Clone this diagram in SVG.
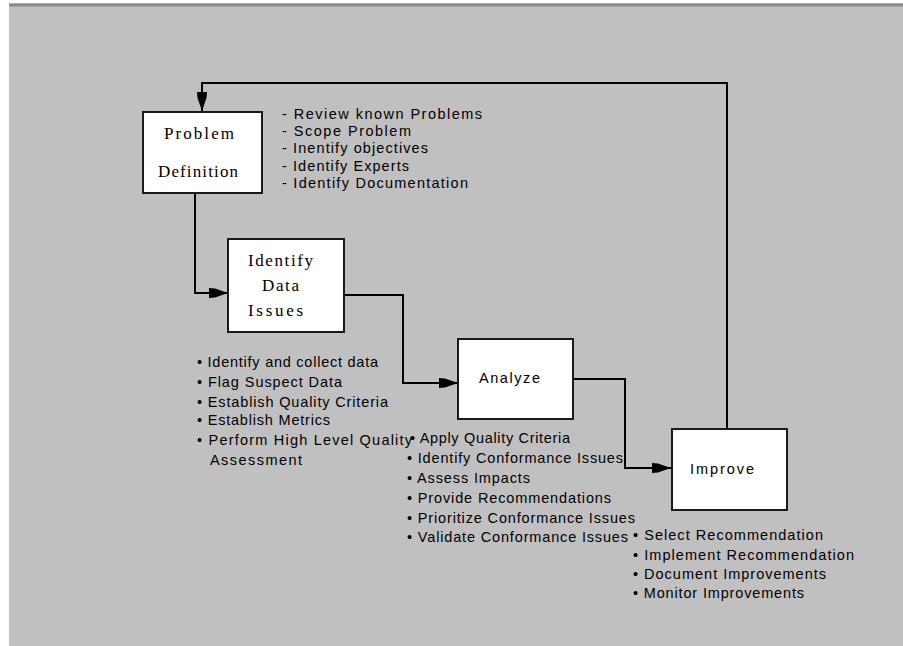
<svg xmlns="http://www.w3.org/2000/svg" width="903" height="646" viewBox="0 0 903 646">
  <style>
    .box { fill: #ffffff; stroke: #1a1a1a; stroke-width: 2; }
    .serif { font-family: "Liberation Serif", "Times New Roman", serif; font-size: 17px; fill: #000; }
    .sans { font-family: "Liberation Sans", Arial, sans-serif; font-size: 14.5px; fill: #000; }
    .link { fill: none; stroke: #000; stroke-width: 2; }
  </style>
  <defs>
    <marker id="arrow" viewBox="0 -6 20 12" refX="19" refY="0" markerWidth="20" markerHeight="12" markerUnits="userSpaceOnUse" orient="auto">
      <path d="M0,-5 L6,-4.5 L19,0 L6,4.5 L0,5 Z" fill="#000"/>
    </marker>
  </defs>

  <!-- window frame and canvas -->
  <rect x="0" y="0" width="903" height="646" fill="#ffffff"/>
  <rect x="9" y="3" width="894" height="643" fill="#c0c0c0"/>
  <rect x="9" y="3" width="894" height="1" fill="#b0b0b0"/>
  <rect x="9" y="4" width="894" height="2" fill="#8a8a8a"/>
  <rect x="9" y="6" width="894" height="1" fill="#a4a4a4"/>

  <!-- connectors -->
  <g id="connectors">
    <path class="link" d="M195,193 V293 H228" marker-end="url(#arrow)"/>
    <path class="link" d="M344,295 H403 V383 H458" marker-end="url(#arrow)"/>
    <path class="link" d="M573,379 H625 V468 H671" marker-end="url(#arrow)"/>
    <path class="link" d="M727,429 V83 H202 V111" marker-end="url(#arrow)"/>
  </g>

  <g id="problem-definition">
    <rect class="box" x="143" y="112" width="119" height="81"/>
    <text class="serif" x="164" y="139" textLength="70" lengthAdjust="spacing">Problem</text>
    <text class="serif" x="158" y="177" textLength="80" lengthAdjust="spacing">Definition</text>
  </g>
  <g id="problem-notes" class="sans">
    <text x="282" y="119" textLength="200" lengthAdjust="spacing">- Review known Problems</text>
    <text x="282" y="136" textLength="129" lengthAdjust="spacing">- Scope Problem</text>
    <text x="282" y="153" textLength="146" lengthAdjust="spacing">- Inentify objectives</text>
    <text x="282" y="171" textLength="127" lengthAdjust="spacing">- Identify Experts</text>
    <text x="282" y="188" textLength="186" lengthAdjust="spacing">- Identify Documentation</text>
  </g>

  <g id="identify-data-issues">
    <rect class="box" x="228" y="239" width="116" height="93"/>
    <text class="serif" x="248" y="266" textLength="65" lengthAdjust="spacing">Identify</text>
    <text class="serif" x="262" y="291" textLength="37" lengthAdjust="spacing">Data</text>
    <text class="serif" x="248" y="316" textLength="55" lengthAdjust="spacing">Issues</text>
  </g>
  <g id="identify-notes" class="sans">
    <text x="197" y="367" textLength="181" lengthAdjust="spacing">• Identify and collect data</text>
    <text x="197" y="387" textLength="145" lengthAdjust="spacing">• Flag Suspect Data</text>
    <text x="197" y="407" textLength="191" lengthAdjust="spacing">• Establish Quality Criteria</text>
    <text x="197" y="425" textLength="133" lengthAdjust="spacing">• Establish Metrics</text>
    <text x="197" y="445" textLength="215" lengthAdjust="spacing">• Perform High Level Quality</text>
    <text x="210" y="465" textLength="92" lengthAdjust="spacing">Assessment</text>
  </g>

  <g id="analyze">
    <rect class="box" x="458" y="339" width="115" height="80"/>
    <text class="sans" x="479" y="383" textLength="61" lengthAdjust="spacing">Analyze</text>
  </g>
  <g id="analyze-notes" class="sans">
    <text x="410" y="443" textLength="160" lengthAdjust="spacing">• Apply Quality Criteria</text>
    <text x="407" y="463" textLength="216" lengthAdjust="spacing">• Identify Conformance Issues</text>
    <text x="407" y="483" textLength="123" lengthAdjust="spacing">• Assess Impacts</text>
    <text x="407" y="503" textLength="204" lengthAdjust="spacing">• Provide Recommendations</text>
    <text x="407" y="523" textLength="228" lengthAdjust="spacing">• Prioritize Conformance Issues</text>
    <text x="407" y="542" textLength="221" lengthAdjust="spacing">• Validate Conformance Issues</text>
  </g>

  <g id="improve">
    <rect class="box" x="672" y="429" width="115" height="81"/>
    <text class="sans" x="690" y="474" textLength="64" lengthAdjust="spacing">Improve</text>
  </g>
  <g id="improve-notes" class="sans">
    <text x="633" y="540" textLength="190" lengthAdjust="spacing">• Select Recommendation</text>
    <text x="633" y="560" textLength="221" lengthAdjust="spacing">• Implement Recommendation</text>
    <text x="633" y="579" textLength="193" lengthAdjust="spacing">• Document Improvements</text>
    <text x="633" y="598" textLength="171" lengthAdjust="spacing">• Monitor Improvements</text>
  </g>
</svg>
